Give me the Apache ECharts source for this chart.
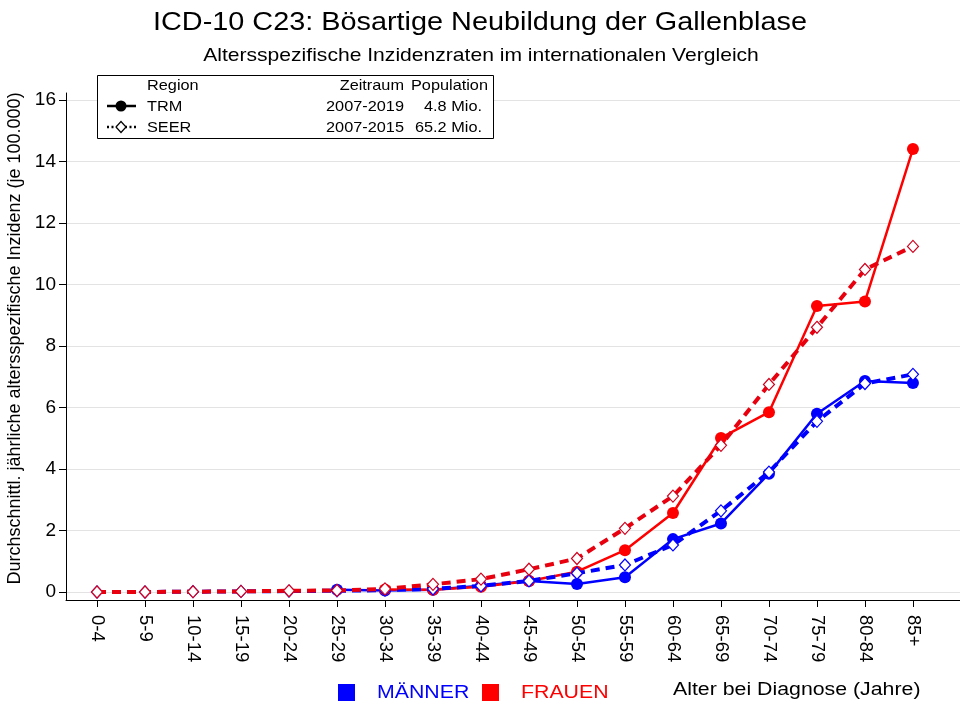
<!DOCTYPE html>
<html>
<head>
<meta charset="utf-8">
<script src="https://cdn.jsdelivr.net/npm/echarts@6/dist/echarts.min.js"></script>
<style>html,body{margin:0;padding:0;background:#fff}#c{width:960px;height:709px}</style>
</head>
<body>
<div id="c"></div>
<script>
var categories = ['0-4','5-9','10-14','15-19','20-24','25-29','30-34','35-39','40-44','45-49','50-54','55-59','60-64','65-69','70-74','75-79','80-84','85+'];
var trmMen   = [null,null,null,null,null,0.07,0.05,0.07,0.20,0.36,0.26,0.48,1.72,2.23,3.85,5.80,6.86,6.80];
var trmWomen = [null,null,null,null,null,null,0.08,0.07,0.17,0.36,0.66,1.36,2.57,5.01,5.85,9.30,9.45,14.41];
var seerMen   = [0.00,0.00,0.01,0.02,0.03,0.04,0.06,0.10,0.20,0.36,0.61,0.88,1.53,2.64,3.90,5.55,6.78,7.08];
var seerWomen = [0.00,0.00,0.01,0.02,0.04,0.05,0.10,0.25,0.42,0.74,1.09,2.07,3.12,4.77,6.75,8.61,10.49,11.24];
var yTicks = [0,2,4,6,8,10,12,14,16];

var FONT = 'Liberation Sans, Arial, sans-serif';
var SX = 1.14;
function pts(arr){ return arr.map(function(v,i){ return [i, v]; }); }
var xIdx = categories.map(function(c,i){ return i; });
function txt(s, x, y, size, color, align){
  return {type:'text', x:x, y:y, scaleX:SX, z:11,
    style:{text:s, font:size+'px '+FONT, fill:color||'#000', textAlign:align||'left', textVerticalAlign:'middle'}};
}

var chart = echarts.init(document.getElementById('c'), null, {renderer:'canvas'});
var option = {
  backgroundColor:'#fff',
  animation:false,
  grid:{left:66, right:0, top:93, bottom:109, containLabel:false, outerBoundsMode:'none'},
  xAxis:{
    type:'value', min:-0.646, max:17.98,
    axisLine:{show:true, onZero:false, lineStyle:{color:'#000', width:1}},
    axisTick:{show:true, length:7, inside:false, customValues:xIdx, lineStyle:{color:'#000'}},
    axisLabel:{customValues:xIdx, rotate:-90, margin:15, fontFamily:FONT, fontSize:18.5, color:'#000',
      formatter:function(v){ return categories[Math.round(v)]; }},
    splitLine:{show:false}
  },
  yAxis:{
    type:'value', min:-0.26, max:16.23,
    name:'Durchschnittl. jährliche altersspezifische Inzidenz (je 100.000)',
    nameLocation:'middle', nameGap:37,
    nameTextStyle:{fontFamily:FONT, fontSize:18, color:'#000', padding:[0,0,0,16]},
    axisLine:{show:true, onZero:false, lineStyle:{color:'#000', width:1}},
    axisTick:{show:true, length:7, customValues:yTicks, lineStyle:{color:'#000'}},
    axisLabel:{customValues:yTicks, margin:10, fontFamily:FONT, fontSize:19, color:'#000'},
    splitLine:{show:true, lineStyle:{color:'#e3e3e3', width:1}}
  },
  series:[
    {name:'TRM Männer', type:'line', data:pts(trmMen), z:2,
     symbol:'circle', symbolSize:12, showAllSymbol:true,
     lineStyle:{color:'#0000ff', width:2.5}, itemStyle:{color:'#0000ff'}},
    {name:'TRM Frauen', type:'line', data:pts(trmWomen), z:3,
     symbol:'circle', symbolSize:12, showAllSymbol:true,
     lineStyle:{color:'#ff0000', width:2.5}, itemStyle:{color:'#ff0000'}},
    {name:'SEER Männer', type:'line', data:pts(seerMen), z:4,
     symbol:'diamond', symbolSize:[11,12], showAllSymbol:true,
     lineStyle:{color:'#0000ff', width:4, type:[9,6]},
     itemStyle:{color:'#ffffff', borderColor:'#0000ff', borderWidth:1.2}},
    {name:'SEER Frauen', type:'line', data:pts(seerWomen), z:5,
     symbol:'diamond', symbolSize:[11,12], showAllSymbol:true,
     lineStyle:{color:'#e8000e', width:4, type:[9,6]},
     itemStyle:{color:'#ffffff', borderColor:'#d0001e', borderWidth:1.2}}
  ],
  graphic:[
    txt('ICD-10 C23: Bösartige Neubildung der Gallenblase', 480, 23, 25.3, '#000', 'center'),
    txt('Altersspezifische Inzidenzraten im internationalen Vergleich', 481, 56, 18.5, '#000', 'center'),

    {type:'rect', shape:{x:97.5, y:75.5, width:396, height:63}, style:{fill:'#fff', stroke:'#000', lineWidth:1}, z:10},
    txt('Region', 147, 86, 14.3),
    txt('Zeitraum', 404, 86, 14.3, '#000', 'right'),
    txt('Population', 488, 86, 14.3, '#000', 'right'),
    {type:'line', shape:{x1:107, y1:106, x2:136, y2:106}, style:{stroke:'#000', lineWidth:2.5}, z:11},
    {type:'circle', shape:{cx:121, cy:106, r:5.5}, style:{fill:'#000'}, z:12},
    txt('TRM', 147, 107, 14.3),
    txt('2007-2019', 404, 107, 14.3, '#000', 'right'),
    txt('4.8 Mio.', 482, 107, 14.3, '#000', 'right'),
    {type:'line', shape:{x1:107, y1:127, x2:136, y2:127}, style:{stroke:'#000', lineWidth:2.5, lineDash:[2,2.5]}, z:11},
    {type:'polygon', shape:{points:[[121,121.5],[126,127],[121,132.5],[116,127]]}, style:{fill:'#fff', stroke:'#000', lineWidth:1.2}, z:12},
    txt('SEER', 147, 128, 14.3),
    txt('2007-2015', 404, 128, 14.3, '#000', 'right'),
    txt('65.2 Mio.', 482, 128, 14.3, '#000', 'right'),

    {type:'rect', shape:{x:338, y:684, width:17, height:17}, style:{fill:'#0000ff'}},
    txt('MÄNNER', 377, 693, 18.7, '#0000ff'),
    {type:'rect', shape:{x:482, y:684, width:17, height:17}, style:{fill:'#ff0000'}},
    txt('FRAUEN', 521, 693, 18.7, '#ff0000'),
    txt('Alter bei Diagnose (Jahre)', 673, 690, 18.7)
  ]
};
chart.setOption(option);
</script>
</body>
</html>
